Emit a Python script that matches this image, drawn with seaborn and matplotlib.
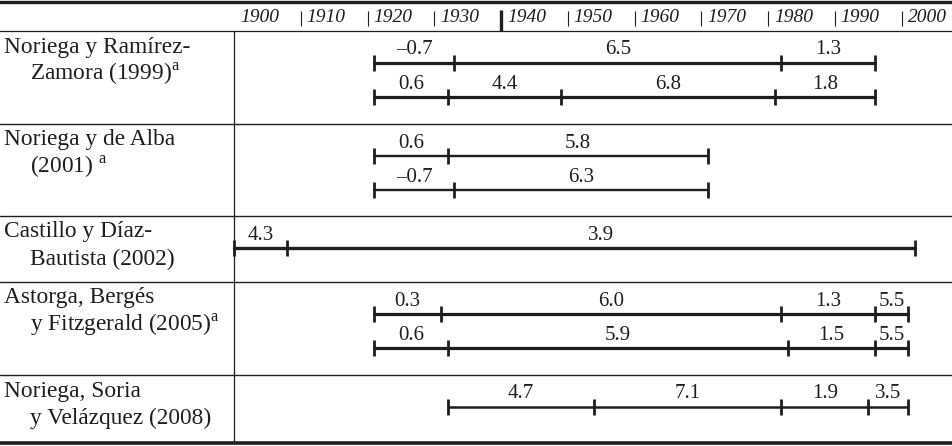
import matplotlib
matplotlib.use("Agg")
import matplotlib.pyplot as plt
import seaborn as sns

sns.set_theme(style="white")
plt.rcParams["font.family"] = ["Liberation Serif", "DejaVu Serif"]
plt.rcParams["mathtext.fontset"] = "custom"
plt.rcParams["mathtext.rm"] = "Liberation Serif"

# ── Data ──────────────────────────────────────────────────────────────────────
studies_line1 = ["Noriega y Ramírez-", "Noriega y de Alba", "Castillo y Díaz-",
                 "Astorga, Bergés", "Noriega, Soria"]
studies_line2 = [r"Zamora (1999)$^{\rm a}$", r"(2001) $^{\rm a}$", "Bautista (2002)",
                 r"y Fitzgerald (2005)$^{\rm a}$", "y Velázquez (2008)"]

# each study: list of series (break years, growth rates per sub-period)
breaks = [
    [[1921, 1933, 1982, 1996], [1921, 1932, 1949, 1981, 1996]],
    [[1921, 1932, 1971], [1921, 1933, 1971]],
    [[1900, 1908, 2002]],
    [[1921, 1931, 1982, 1996, 2001], [1921, 1932, 1983, 1996, 2001]],
    [[1932, 1954, 1982, 1995, 2001]],
]
rates = [
    [[-0.7, 6.5, 1.3], [0.6, 4.4, 6.8, 1.8]],
    [[0.6, 5.8], [-0.7, 6.3]],
    [[4.3, 3.9]],
    [[0.3, 6.0, 1.3, 5.5], [0.6, 5.9, 1.5, 5.5]],
    [[4.7, 7.1, 1.9, 3.5]],
]
decades = [1900, 1910, 1920, 1930, 1940, 1950, 1960, 1970, 1980, 1990, 2000]

# ── Layout (pixel-like units from the top) ────────────────────────────────────
block_tops = [31, 124, 216, 282, 375]
table_bottom = 443
line_widths = [2.3, 1.7, 2.4, 2.3, 1.8]
PX_PER_YEAR = 6.675
LEFT_PX, W_PX, H_PX = 234, 953, 446
INK = "#1e1e1e"

fig = plt.figure(figsize=(9.53, 4.46), dpi=100)
ax = fig.add_axes([0, 0, 1, 1])
ax.set_xlim(1900 - LEFT_PX / PX_PER_YEAR, 1900 + (W_PX - LEFT_PX) / PX_PER_YEAR)
ax.set_ylim(H_PX, 0)
ax.axis("off")

# table rules
ax.axhline(1.5, color=INK, lw=2.4)
ax.axhline(block_tops[0], color=INK, lw=0.9)
for yt in block_tops[1:]:
    ax.axhline(yt, color=INK, lw=1.0)
ax.axhline(table_bottom, color=INK, lw=2.6)
ax.vlines(1900, block_tops[0], table_bottom, color=INK, lw=0.9)

# header years
for d in decades:
    if d == 1940:
        ax.vlines(d, 10, block_tops[0], color=INK, lw=2.4)
    elif d != 1900:
        ax.vlines(d, 11, 26, color=INK, lw=0.8)
    ax.text(d + 0.9, 18, str(d), style="italic", fontsize=14,
            ha="left", va="center", color=INK)

# study rows
for i, (top, series_b, series_r) in enumerate(zip(block_tops, breaks, rates)):
    ax.text(0.004, top + 16, studies_line1[i], transform=ax.get_yaxis_transform(),
            fontsize=16.8, ha="left", va="center", color=INK)
    ax.text(0.031, top + 43, studies_line2[i], transform=ax.get_yaxis_transform(),
            fontsize=16.8, ha="left", va="center", color=INK)
    for k, (yrs, vals) in enumerate(zip(series_b, series_r)):
        y = top + 31.5 + 34.5 * k
        sns.lineplot(x=yrs, y=[y] * len(yrs), ax=ax, color=INK,
                     lw=line_widths[i], marker="|", markersize=11, mew=2,
                     mec=INK, estimator=None, sort=False)
        for a, b, v in zip(yrs[:-1], yrs[1:], vals):
            txt = f"{v:.1f}".replace("-", "\u2013")
            ax.text((a + b) / 2, y - 8, txt, fontsize=15, ha="center",
                    va="baseline", color=INK)

fig.savefig("out.png", dpi=100)
